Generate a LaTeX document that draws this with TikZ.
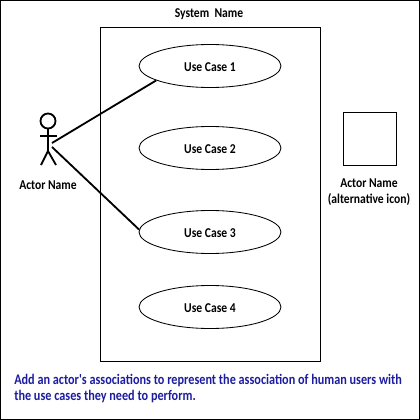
\documentclass[tikz,border=0pt]{standalone}
\usepackage{fontspec}
\setmainfont[FakeStretch=0.86]{Carlito}
\newfontfamily\notefont[FakeStretch=0.835]{Carlito}
\usepackage{xcolor}
\usetikzlibrary{positioning, shapes.geometric}
\definecolor{notetext}{RGB}{28,28,160}
\tikzset{
  usecase/.style={draw, ellipse, line width=0.6pt, minimum width=142*0.025cm, minimum height=43*0.025cm, inner sep=0pt},
  label/.style={font=\bfseries\fontsize{9.6}{11}\selectfont, align=center, inner sep=0pt},
  link/.style={line width=1.3pt},
  limb/.style={line width=1.3pt}
}
\begin{document}
\begin{tikzpicture}[x=0.025cm, y=-0.025cm]
  \useasboundingbox (0,0) rectangle (420,420);
  \draw[line width=1.1pt] (0.5,0.5) rectangle (419.5,419.5);
  % system
  \node[draw, line width=0.7pt, minimum width=220*0.025cm, minimum height=334*0.025cm, inner sep=0pt] (system) at (210.5,194) {};
  \node[label] (systemname) at (209,14) {System\ \ Name};
  % use cases
  \node[usecase] (uc1) at (210,66) {};
  \node[usecase] (uc2) at (210,148) {};
  \node[usecase] (uc3) at (210,232) {};
  \node[usecase] (uc4) at (210,307) {};
  \node[label] at (210,67) {Use Case 1};
  \node[label] at (210,149) {Use Case 2};
  \node[label] at (210,233) {Use Case 3};
  \node[label] at (210,308) {Use Case 4};
  % actor
  \node[draw, circle, limb, minimum size=15*0.025cm, inner sep=0pt] (head) at (48,121) {};
  \coordinate (hip) at (48,151);
  \coordinate (handl) at (40,136);
  \coordinate (handr) at (57,136);
  \coordinate (footl) at (41,165);
  \coordinate (footr) at (56,165);
  \draw[limb] (head) -- (hip);
  \draw[limb] (handl) -- (handr);
  \draw[limb] (footl) -- (hip) -- (footr);
  \node[label] (actorname) at (48,185) {Actor Name};
  % associations
  \coordinate (assoc1) at (52,143);
  \coordinate (assoc3) at (52,147);
  \draw[link] (assoc1) -- (uc1.195);
  \draw[link] (assoc3) -- (uc3.178);
  % alternative icon
  \node[draw, line width=0.7pt, minimum size=53*0.025cm, inner sep=0pt] (icon) at (370,138.5) {};
  \node[label] (iconname) at (369,192) {Actor Name\\(alternative icon)};
  % note
  \node[label, text=notetext, align=left, anchor=north west, font=\notefont\bfseries\fontsize{10.4}{11.2}\selectfont] (note) at (14,374) {Add an actor's associations to represent the association of human users with\\the use cases they need to perform.};
\end{tikzpicture}
\end{document}
